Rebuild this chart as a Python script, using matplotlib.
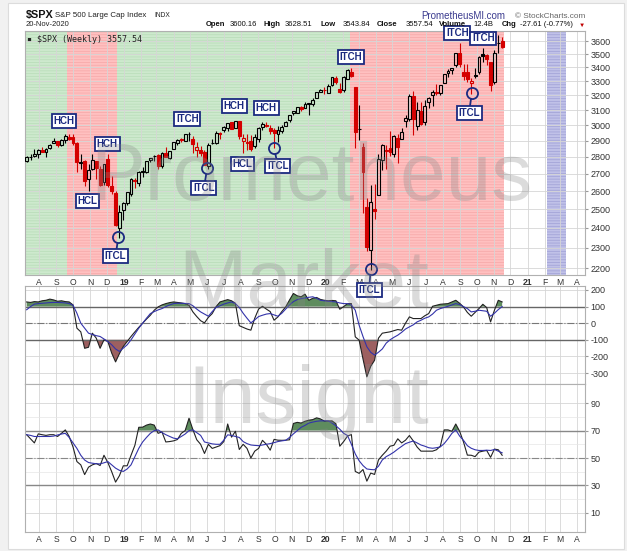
import numpy as np
import pandas as pd
import matplotlib
matplotlib.use('Agg')
import matplotlib.pyplot as plt
from matplotlib.patches import Rectangle
from matplotlib.ticker import NullLocator

plt.rcParams['font.family'] = ['Liberation Sans', 'DejaVu Sans']
plt.rcParams['hatch.linewidth'] = 0.6
plt.rcParams['axes.unicode_minus'] = False

W, H = 627, 551

# weekly bars (Monday of each week)
weeks = pd.date_range('2018-07-09', periods=124, freq='7D')

opens = [2775, 2797, 2807, 2819, 2844, 2827, 2853, 2885, 2897, 2875,
         2903, 2925, 2926, 2886, 2763, 2773, 2670, 2727, 2773, 2730,
         2650, 2790, 2630, 2591, 2401, 2498, 2535, 2583, 2657, 2644,
         2713, 2712, 2780, 2804, 2814, 2747, 2823, 2796, 2848, 2888,
         2909, 2898, 2940, 2908, 2841, 2841, 2830, 2745, 2885, 2889,
         2952, 2971, 2980, 3018, 2982, 3024, 2899, 2895, 2898, 2866,
         2909, 2988, 3001, 2983, 2967, 2945, 2965, 2996, 3032, 3079,
         3080, 3118, 3117, 3144, 3141, 3183, 3227, 3240, 3218, 3271,
         3321, 3248, 3235, 3318, 3370, 3258, 2975, 2864, 2509, 2290,
         2500, 2578, 2782, 2845, 2855, 2815, 2915, 2914, 3025, 3038,
         3199, 2994, 3094, 3018, 3155, 3205, 3224, 3219, 3289, 3356,
         3381, 3419, 3508, 3370, 3364, 3285, 3334, 3367, 3500, 3493,
         3441, 3296, 3583, 3600]
highs = [2804, 2816, 2848, 2848, 2863, 2855, 2877, 2916, 2901, 2908,
         2941, 2940, 2940, 2894, 2817, 2779, 2756, 2815, 2776, 2747,
         2760, 2815, 2686, 2601, 2520, 2538, 2597, 2675, 2673, 2716,
         2738, 2778, 2795, 2814, 2817, 2831, 2860, 2836, 2893, 2910,
         2917, 2940, 2955, 2931, 2892, 2865, 2840, 2884, 2911, 2964,
         2955, 2996, 3014, 3018, 3028, 3029, 2943, 2943, 2939, 2940,
         2985, 3021, 3022, 2999, 2983, 2993, 3000, 3027, 3067, 3094,
         3121, 3127, 3154, 3151, 3182, 3226, 3248, 3259, 3282, 3330,
         3338, 3285, 3337, 3385, 3393, 3259, 3137, 2883, 2562, 2637,
         2641, 2819, 2880, 2871, 2965, 2934, 2945, 2980, 3068, 3211,
         3233, 3155, 3155, 3165, 3186, 3238, 3280, 3272, 3352, 3387,
         3399, 3509, 3588, 3425, 3429, 3320, 3393, 3482, 3549, 3502,
         3441, 3529, 3646, 3629]
lows = [2770, 2783, 2801, 2795, 2832, 2802, 2849, 2885, 2864, 2865,
        2886, 2904, 2874, 2710, 2730, 2628, 2603, 2722, 2670, 2631,
        2636, 2621, 2583, 2409, 2347, 2444, 2525, 2571, 2617, 2631,
        2681, 2705, 2768, 2774, 2728, 2735, 2800, 2785, 2848, 2873,
        2891, 2898, 2900, 2825, 2801, 2805, 2750, 2728, 2877, 2880,
        2914, 2958, 2963, 2975, 2980, 2914, 2822, 2840, 2834, 2853,
        2891, 2969, 2986, 2946, 2855, 2892, 2952, 2992, 3023, 3067,
        3078, 3091, 3113, 3070, 3124, 3183, 3222, 3212, 3214, 3264,
        3280, 3214, 3224, 3315, 3328, 2856, 2902, 2478, 2281, 2192,
        2447, 2578, 2720, 2727, 2804, 2798, 2766, 2913, 2988, 3026,
        2936, 2966, 3000, 3000, 3116, 3128, 3200, 3204, 3284, 3328,
        3355, 3405, 3403, 3310, 3292, 3209, 3323, 3354, 3441, 3415,
        3233, 3280, 3512, 3544]
closes = [2801, 2802, 2818, 2840, 2833, 2850, 2875, 2901, 2871, 2904,
          2929, 2914, 2885, 2767, 2768, 2658, 2723, 2781, 2736, 2633,
          2760, 2633, 2600, 2417, 2486, 2532, 2596, 2671, 2665, 2707,
          2708, 2776, 2793, 2804, 2743, 2822, 2801, 2834, 2893, 2907,
          2905, 2940, 2946, 2881, 2860, 2826, 2752, 2873, 2887, 2950,
          2942, 2990, 3014, 2977, 3026, 2932, 2919, 2889, 2847, 2926,
          2979, 3007, 2992, 2962, 2952, 2970, 2986, 3023, 3067, 3093,
          3120, 3110, 3141, 3146, 3169, 3221, 3240, 3235, 3265, 3330,
          3295, 3226, 3328, 3380, 3338, 2954, 2972, 2711, 2305, 2541,
          2489, 2790, 2875, 2837, 2831, 2930, 2864, 2955, 3044, 3194,
          3041, 3098, 3009, 3130, 3185, 3225, 3216, 3271, 3351, 3373,
          3397, 3508, 3427, 3341, 3319, 3298, 3348, 3477, 3484, 3465,
          3270, 3509, 3585, 3558]

cci = [128, 125, 130, 128, 135, 138, 145, 140, 132, 135,
       130, 128, 110, -30, -52, -151, -145, -60, -90, -151,
       -100, -110, -180, -233, -183, -140, -110, -80, -52, -25,
       0, 25, 48, 78, 98, 110, 118, 124, 128, 125,
       122, 118, 108, 68, 40, 15, 2, 35, 58, 100,
       128, 135, 142, 135, 120, -15, -25, -35, -42, 30,
       85, 102, 85, 70, 18, 38, 70, 98, 140, 179,
       165, 159, 175, 138, 150, 155, 143, 138, 135, 137,
       135, 84, 100, 118, 118, -82, -102, -215, -323, -260,
       -223, -90, -60, -56, -52, -45, -38, -42, 0, 38,
       28, 28, 28, 45, 58, 102, 108, 114, 116, 118,
       128, 138, 120, 98, 65, 42, 65, 88, 114, 94,
       8, 78, 138, 128]
cci_avg = [81, 100, 115, 118, 120, 122, 124, 125, 125, 124,
           122, 118, 108, 60, 0, -30, -60, -68, -75, -80,
           -95, -110, -130, -155, -170, -150, -130, -100, -65, -30,
           0, 30, 58, 70, 80, 88, 100, 110, 118, 120,
           120, 119, 118, 105, 85, 68, 55, 42, 70, 95,
           105, 115, 122, 128, 118, 95, 60, 30, 2, 20,
           40, 48, 55, 58, 50, 42, 60, 85, 110, 130,
           142, 148, 152, 156, 159, 150, 138, 135, 132, 130,
           128, 122, 118, 118, 110, 78, -12, -80, -142, -175,
           -192, -175, -155, -120, -100, -85, -72, -55, -35, -22,
           -10, 8, 18, 30, 38, 55, 78, 88, 95, 102,
           110, 118, 112, 100, 88, 68, 72, 78, 75, 72,
           42, 60, 82, 100]

rsi = [67, 64, 61, 67.6, 67, 66.5, 67, 67, 65.7, 68,
       70.5, 65.7, 58, 47.4, 45, 37.9, 43.3, 45, 46, 44.5,
       52, 46.7, 40, 32.4, 37.1, 44.3, 44.3, 52, 59.3, 72.4,
       72.5, 74, 74.8, 74, 68, 69, 61.7, 62, 62.5, 63.5,
       68, 70, 79, 70.7, 63.3, 60, 53.3, 60, 57, 58,
       59, 62, 74.8, 65.2, 69.5, 56.2, 60, 57, 50, 55,
       57, 62.9, 60, 55.7, 63.6, 63, 62.9, 63, 63.3, 75.2,
       76, 75.5, 76.8, 77.6, 78, 79.3, 78.5, 77, 77, 77.1,
       75, 58.6, 62, 66, 67.1, 40.2, 38.8, 41.6, 33.1, 39,
       38, 48.6, 52, 55, 58.6, 59.3, 64, 61, 63, 66.4,
       62.5, 58, 55, 55, 55, 55, 56, 58.6, 70.5, 70.5,
       69.5, 74.8, 69.5, 61.7, 52.1, 52, 51, 54.3, 55, 55.5,
       50.5, 56.5, 56, 52]
rsi_avg = [67, 66.5, 65.7, 65.7, 65.7, 65.7, 65.7, 66, 66.8, 67.5,
           68, 65, 61, 57, 52, 48.5, 46.7, 46.2, 45.8, 45.7,
           46.5, 47.4, 45, 42.6, 41, 40.2, 42, 45, 51, 57,
           61.7, 65, 68, 70, 70.5, 68.6, 67, 65.7, 64.5, 64,
           65.7, 67.5, 70, 70.5, 68.5, 66.5, 61.7, 61, 60.3, 60,
           60, 63, 66.9, 66.5, 65.7, 65, 62, 60.5, 59.5, 59.2,
           59, 59.5, 60, 60.5, 61.2, 62, 62.5, 62.9, 65, 67.6,
           70, 72.4, 73.8, 75.5, 76.2, 76.8, 77.1, 77.1, 77.1, 75.5,
           73.5, 71, 68, 66.4, 60, 53, 48, 44.5, 42, 41.6,
           41.4, 44, 48.6, 51, 52.5, 54.3, 56.5, 58.5, 60.5, 61.5,
           62.4, 61, 59.5, 58.6, 57.5, 57.1, 57.5, 58.1, 60.5, 64,
           68, 70.5, 66, 62.9, 59, 57.1, 56, 55.5, 55.5, 55.7,
           55.5, 56.2, 55, 53.8]

# background regimes: start, end, kind
zones = [('2018-07-01', '2018-09-20', 'up'),
         ('2018-09-20', '2018-12-20', 'down'),
         ('2018-12-20', '2020-02-14', 'up'),
         ('2020-02-14', '2020-11-19', 'down'),
         ('2021-02-06', '2021-03-12', 'cycle')]

# cycle labels: text, date, price
marks = [('HCH', '2018-09-15', 3026), ('HCH', '2018-12-02', 2879),
         ('HCL', '2018-10-27', 2544), ('ITCH', '2019-04-26', 3039),
         ('HCH', '2019-07-20', 3126), ('HCH', '2019-09-16', 3112),
         ('HCL', '2019-08-04', 2757), ('ITCH', '2020-02-16', 3477),
         ('ITCH', '2020-08-27', 3663), ('ITCH', '2020-10-13', 3622)]
# trough labels with circle: text, label date, label price, circle date, circle price
troughs = [('ITCL', '2018-12-17', 2258, '2018-12-22', 2353),
           ('ITCL', '2019-05-26', 2617, '2019-06-01', 2733),
           ('ITCL', '2019-10-07', 2745, '2019-09-30', 2854),
           ('ITCL', '2020-03-20', 2097, '2020-03-23', 2195),
           ('ITCL', '2020-09-17', 3079, '2020-09-22', 3216)]

month_ticks = pd.date_range('2018-08-01', '2021-04-01', freq='MS')
month_labels = ['A', 'S', 'O', 'N', 'D', '19', 'F', 'M', 'A', 'M', 'J', 'J', 'A',
                'S', 'O', 'N', 'D', '20', 'F', 'M', 'A', 'M', 'J', 'J', 'A', 'S',
                'O', 'N', 'D', '21', 'F', 'M', 'A']
price_ticks = [2200, 2300, 2400, 2500, 2600, 2700, 2800, 2900, 3000,
               3100, 3200, 3300, 3400, 3500, 3600]
cci_ticks = [200, 100, 0, -100, -200, -300]
rsi_ticks = [90, 70, 50, 30, 10]

x_start, x_end = pd.Timestamp('2018-07-06'), pd.Timestamp('2021-04-15')

navy = '#1b2a80'
grid_col = '#d6d6d6'
spine_col = '#b0b0b0'
zone_cols = {'up': ('#cde9cd', '#bbdebb'),
             'down': ('#ffc0c0', '#f7abab'),
             'cycle': ('#c0c1e8', '#a4a5d8')}


def fig_box(left, top, right, bottom):
    return [left / W, 1 - bottom / H, (right - left) / W, (bottom - top) / H]


fig = plt.figure(figsize=(W / 100, H / 100), dpi=100, facecolor='#f1f1f1')
fig.patches.append(Rectangle((8 / W, 2 / H), 616 / W, 546 / H, transform=fig.transFigure,
                             facecolor='white', edgecolor='#dcdcdc', lw=0.8, zorder=-1))

ax_p = fig.add_axes(fig_box(25, 31, 585, 275))
ax_c = fig.add_axes(fig_box(25, 286, 585, 384))
ax_r = fig.add_axes(fig_box(25, 384, 585, 532))
ax_p.set_zorder(3)


def style_axis(ax, labels_on):
    ax.set_xlim(x_start, x_end)
    ax.set_xticks(month_ticks)
    if labels_on:
        ax.set_xticklabels(month_labels)
        for lbl in ax.get_xticklabels():
            if lbl.get_text().isdigit():
                lbl.set_fontweight('bold')
    else:
        ax.set_xticklabels([])
    ax.tick_params(axis='x', length=0, pad=2, labelsize=6.2, colors='#333333')
    ax.yaxis.tick_right()
    ax.tick_params(axis='y', length=2, pad=2, labelsize=6.5, colors='#333333',
                   color='#999999')
    ax.set_axisbelow(True)
    ax.grid(True, color=grid_col, lw=0.6)
    for s in ax.spines.values():
        s.set_color(spine_col)
        s.set_linewidth(0.8)


# ---- price panel
o, h, l, c = (np.array(v, dtype=float) for v in (opens, highs, lows, closes))
prev = np.r_[o[0], c[:-1]]
col = np.where(c >= prev, 'black', '#d40000')
lo_b, hi_b = np.minimum(o, c), np.maximum(o, c)
face = [('none' if c[i] > o[i] else col[i]) for i in range(len(c))]

for start, end, kind in zones:
    fc, hc = zone_cols[kind]
    ax_p.axvspan(pd.Timestamp(start), pd.Timestamp(end), facecolor=fc, edgecolor=hc,
                 hatch='------', lw=0, zorder=0.2)

ax_p.vlines(weeks, l, lo_b, colors=col, lw=0.8, zorder=2)
ax_p.vlines(weeks, hi_b, h, colors=col, lw=0.8, zorder=2)
ax_p.bar(weeks, np.maximum(hi_b - lo_b, 2), bottom=lo_b, width=5.2, facecolor=face,
         edgecolor=col, lw=0.8, zorder=3)

ax_p.set_yscale('log')
ax_p.set_ylim(2167, 3680)
ax_p.set_yticks(price_ticks)
ax_p.set_yticklabels([str(t) for t in price_ticks])
ax_p.yaxis.set_minor_locator(NullLocator())
style_axis(ax_p, True)

box = dict(boxstyle='square,pad=0.18', facecolor='white', edgecolor=navy, lw=1.3)
for text, d, p in marks:
    ax_p.text(pd.Timestamp(d), p, text, ha='center', va='center', fontsize=7,
              fontweight='bold', color=navy, bbox=box, zorder=6)
for text, d, p, cd, cp in troughs:
    ax_p.plot(pd.Timestamp(cd), cp, 'o', ms=8, mfc='none', mec=navy, mew=1.3, zorder=5)
    ax_p.annotate(text, xy=(pd.Timestamp(cd), cp), xytext=(pd.Timestamp(d), p),
                  ha='center', va='center', fontsize=7, fontweight='bold', color=navy,
                  bbox=box, zorder=6, annotation_clip=False,
                  arrowprops=dict(arrowstyle='-', color=navy, lw=1.3, shrinkA=0,
                                  shrinkB=4.2))

ax_p.text(0.004, 0.985, '\u25aa $SPX (Weekly) 3557.54', transform=ax_p.transAxes,
          family='DejaVu Sans Mono', fontsize=6, color='#222222', va='top', ha='left',
          zorder=7)

# ---- CCI panel
cci_a = np.array(cci, dtype=float)
ax_c.fill_between(weeks, cci_a, 100, where=cci_a >= 100, interpolate=True,
                  color='#5e8c5e', lw=0, zorder=1)
ax_c.fill_between(weeks, cci_a, -100, where=cci_a <= -100, interpolate=True,
                  color='#9d6060', lw=0, zorder=1)
ax_c.axhline(100, color='#666666', lw=1.0, zorder=1.5)
ax_c.axhline(-100, color='#666666', lw=1.0, zorder=1.5)
ax_c.axhline(0, color='#777777', lw=0.8, ls='-.', zorder=1.5)
ax_c.plot(weeks, cci_a, color='#222222', lw=0.8, zorder=3)
ax_c.plot(weeks, cci_avg, color='#3333aa', lw=0.8, zorder=4)
ax_c.set_ylim(-366, 224)
ax_c.set_yticks(cci_ticks)
style_axis(ax_c, False)

# ---- RSI panel
rsi_a = np.array(rsi, dtype=float)
ax_r.fill_between(weeks, rsi_a, 70, where=rsi_a >= 70, interpolate=True,
                  color='#5e8c5e', lw=0, zorder=1)
ax_r.axhline(70, color='#888888', lw=1.0, zorder=1.5)
ax_r.axhline(30, color='#888888', lw=1.0, zorder=1.5)
ax_r.axhline(50, color='#888888', lw=0.8, ls='-.', zorder=1.5)
ax_r.plot(weeks, rsi_a, color='#222222', lw=0.8, zorder=3)
ax_r.plot(weeks, rsi_avg, color='#3333aa', lw=0.8, zorder=4)
ax_r.set_ylim(-4, 104)
ax_r.set_yticks(rsi_ticks)
ax_r.set_yticks([20, 40, 60, 80], minor=True)
style_axis(ax_r, True)
ax_r.grid(True, which='minor', axis='y', color='#e6e6e6', lw=0.5)
ax_r.tick_params(axis='y', which='minor', length=0)


# ---- header
def px_text(x, y, s, **kw):
    fig.text(x / W, 1 - y / H, s, va='center', ha='left', **kw)


px_text(26, 15, '$SPX', fontsize=7.8, fontweight='bold', color='#111111')
px_text(55, 15.5, 'S&P 500 Large Cap Index', fontsize=5.7, color='#222222')
px_text(154, 15.5, 'INDX', fontsize=4.8, color='#222222')
px_text(26, 25, '20-Nov-2020', fontsize=5.5, color='#222222')
px_text(421, 16, 'PrometheusMI.com', fontsize=7.0, color='#3b3b8f')
px_text(515, 16, '\u00a9 StockCharts.com', fontsize=5.9, color='#666666')

quote = [('Open', 205.5, True), ('3600.16', 229.5, False), ('High', 263, True),
         ('3628.51', 285, False), ('Low', 320.5, True), ('3543.84', 342.5, False),
         ('Close', 377, True), ('3557.54', 406, False), ('Volume', 439, True),
         ('12.4B', 473, False), ('Chg', 501.5, True), ('-27.61 (-0.77%)', 520, False)]
for s, xp, bold in quote:
    px_text(xp, 25, s, fontsize=5.5, fontweight='bold' if bold else 'normal',
            color='#111111')
px_text(579, 25.5, '\u25bc', fontsize=4.5, color='#c00000')

# ---- watermark
for word, xc, yb in [('Prometheus', 311, 200), ('Market', 304, 307), ('Insight', 308, 423)]:
    fig.text(xc / W, 1 - yb / H, word, ha='center', va='baseline', fontsize=59,
             color='#888888', alpha=0.3, zorder=10)

fig.savefig('out.png', dpi=100, facecolor=fig.get_facecolor())
